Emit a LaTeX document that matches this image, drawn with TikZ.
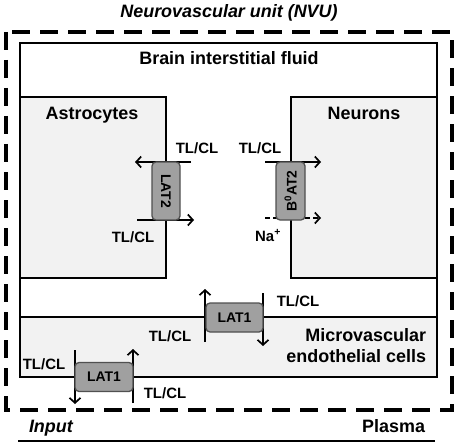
\documentclass[tikz,border=0pt]{standalone}
\usepackage{fontspec}
\setmainfont{Liberation Sans}
\usepackage{tikz}
\usetikzlibrary{arrows.meta}
\tikzset{>={Straight Barb[length=5bp,width=11bp]}}
\definecolor{cellgray}{HTML}{F2F2F2}
\definecolor{tgray}{HTML}{A0A0A0}
\definecolor{tedge}{HTML}{505050}
\tikzstyle{transporter}=[draw=tedge,fill=tgray,rounded corners=4bp,line width=1.3bp,inner sep=0pt,font=\bfseries\fontsize{14}{14}\selectfont]
\tikzstyle{lbl}=[font=\bfseries\fontsize{15}{15}\selectfont,inner sep=0pt,anchor=base]
\tikzstyle{big}=[font=\bfseries\fontsize{18}{18}\selectfont,inner sep=0pt,anchor=base]

\begin{document}
\begin{tikzpicture}[x=1bp,y=-1bp,line width=2bp]
  \useasboundingbox (0,0) rectangle (459,447);
  \fill[cellgray] (20,317) rectangle (437,377);
  \draw[fill=cellgray] (20,97) rectangle (166,278);
  \draw[fill=cellgray] (291,97) rectangle (437,278);
  \draw (20,43) rectangle (437,377);
  \draw (20,317) -- (437,317);
  \draw[line width=3.2bp,dash pattern=on 18bp off 10bp] (6,32) rectangle (452,410);

  \node[big,font=\bfseries\itshape\fontsize{18}{18}\selectfont] (nvu) at (229,18) {Neurovascular unit (NVU)};
  \node[big] (bif) at (229,65) {Brain interstitial fluid};
  \node[big] (astro) at (92,120) {Astrocytes};
  \node[big] (neur) at (364,120) {Neurons};
  \node[big,anchor=base east] (mvc) at (427,341) {Microvascular};
  \node[big,anchor=base east] (endo) at (427,362) {endothelial cells};
  \node[big,anchor=base west,font=\bfseries\itshape\fontsize{18}{18}\selectfont] (input) at (28,432) {Input};
  \node[big,anchor=base east] (plasma) at (426,432) {Plasma};
  \draw[line width=1.5bp] (18,441) -- (435,441);

  \coordinate (l2a) at (191,162); \coordinate (l2b) at (135,162);
  \coordinate (l2c) at (137,220); \coordinate (l2d) at (194,220);
  \coordinate (b2a) at (265,162); \coordinate (b2b) at (321,162);
  \coordinate (b2c) at (265,218); \coordinate (b2d) at (321,218);
  \coordinate (u1a) at (205,342); \coordinate (u1b) at (205,289);
  \coordinate (u1c) at (263,293); \coordinate (u1d) at (263,346);
  \coordinate (d1a) at (75,350);  \coordinate (d1b) at (75,404);
  \coordinate (d1c) at (133,403); \coordinate (d1d) at (133,349);
  \draw[->,line width=1.7bp] (l2a) -- (l2b);
  \draw[->,line width=1.7bp] (l2c) -- (l2d);
  \draw[->,line width=1.7bp] (b2a) -- (b2b);
  \draw[->,line width=1.7bp,dash pattern=on 5bp off 3bp] (b2c) -- (b2d);
  \draw[->,line width=1.7bp] (u1a) -- (u1b);
  \draw[->,line width=1.7bp] (u1c) -- (u1d);
  \draw[->,line width=1.7bp] (d1a) -- (d1b);
  \draw[->,line width=1.7bp] (d1c) -- (d1d);

  \node[transporter,rotate=-90,minimum width=58bp,minimum height=28bp] (lat2) at (166,191) {LAT2};
  \node[transporter,rotate=90,minimum width=58bp,minimum height=29bp] (b0at2) at (290.5,191) {B\textsuperscript{0}AT2};
  \node[transporter,minimum width=57bp,minimum height=29bp] (lat1u) at (234.5,317.5) {LAT1};
  \node[transporter,minimum width=58bp,minimum height=29bp] (lat1d) at (104,377) {LAT1};

  \node[lbl] (tc1) at (197,154) {TL/CL};
  \node[lbl] (tc2) at (133,242) {TL/CL};
  \node[lbl] (tc3) at (260,154) {TL/CL};
  \node[lbl] (na) at (268,241) {Na\textsuperscript{+}};
  \node[lbl] (tc4) at (298,306) {TL/CL};
  \node[lbl] (tc5) at (170,341) {TL/CL};
  \node[lbl] (tc6) at (44,369) {TL/CL};
  \node[lbl] (tc7) at (165,398) {TL/CL};
\end{tikzpicture}
\end{document}
